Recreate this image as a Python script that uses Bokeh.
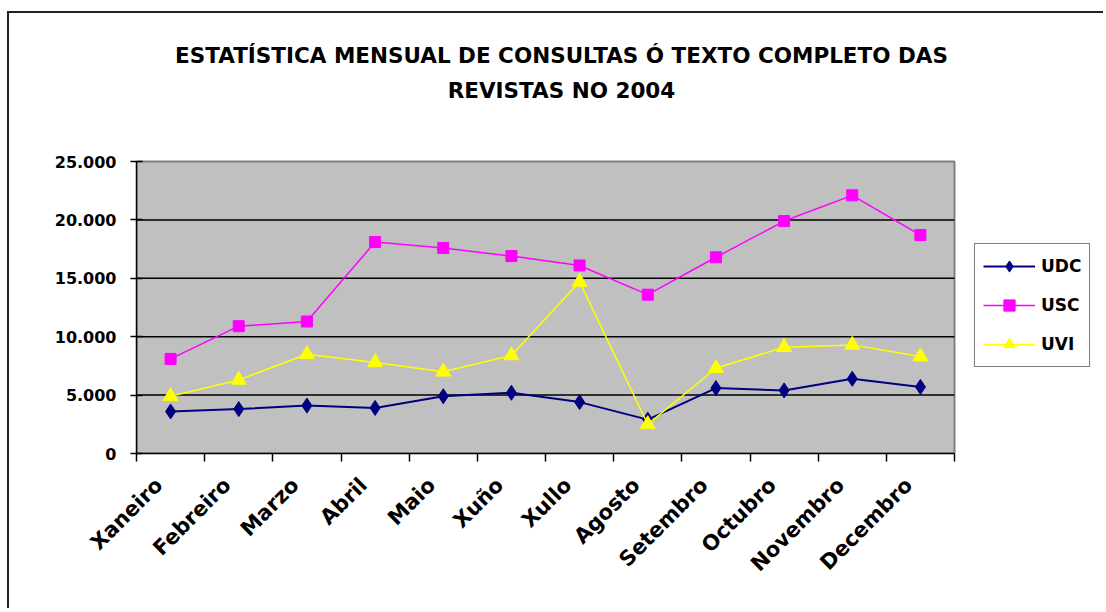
from bokeh.plotting import figure
from bokeh.models import (ColumnDataSource, FixedTicker, Legend, LegendItem, Label,
                          Range1d)
from bokeh.embed import file_html
from bokeh.resources import INLINE

# ---- data ----
months = ["Xaneiro", "Febreiro", "Marzo", "Abril", "Maio", "Xuño", "Xullo",
          "Agosto", "Setembro", "Octubro", "Novembro", "Decembro"]
udc = [3600, 3800, 4100, 3900, 4900, 5200, 4400, 2900, 5600, 5400, 6400, 5700]
usc = [8100, 10900, 11300, 18100, 17600, 16900, 16100, 13600, 16800, 19900, 22100, 18700]
uvi = [4900, 6300, 8500, 7800, 7000, 8400, 14700, 2500, 7300, 9100, 9300, 8300]
y_ticks = [0, 5000, 10000, 15000, 20000, 25000]
y_tick_labels = ["0", "5.000", "10.000", "15.000", "20.000", "25.000"]
title_lines = ["ESTATÍSTICA MENSUAL DE CONSULTAS Ó TEXTO COMPLETO DAS",
               "REVISTAS NO 2004"]
series_names = ["UDC", "USC", "UVI"]

FONT = "DejaVu Sans"

# ---- layout (pixels) ----
W, H = 1096, 597
BORDER_L, BORDER_B = 127, 157
AREA_W, AREA_H = 818, 292          # grey plot area size in px
FRAME_W = W - BORDER_L
FRAME_H = H - BORDER_B
LABEL_SHIFT = 0.17                 # month labels sit a little left of the category centre

n = len(months)
ymax = y_ticks[-1]
xpos = [i + 0.5 for i in range(n)]
label_pos = [x - LABEL_SHIFT for x in xpos]
src = ColumnDataSource(dict(x=xpos, udc=udc, usc=usc, uvi=uvi))

p = figure(width=W, height=H, output_backend="svg", toolbar_location=None,
           x_range=Range1d(0, n * FRAME_W / AREA_W),
           y_range=Range1d(0, ymax * FRAME_H / AREA_H),
           min_border_left=BORDER_L, min_border_right=0, min_border_top=0,
           min_border_bottom=BORDER_B,
           styles={"border-left": "2px solid #222222", "border-top": "2px solid #222222",
                   "margin-top": "11px", "margin-left": "7px"})
p.background_fill_color = "white"
p.border_fill_color = "white"
p.outline_line_color = None
p.xgrid.visible = False
p.ygrid.visible = False

# grey plot area + horizontal grid lines
p.quad(left=[0], right=[n], bottom=[0], top=[ymax], fill_color="#C0C0C0",
       line_color="#808080", line_width=2)
grid_vals = y_ticks[1:-1]
p.segment(x0=[0] * len(grid_vals), x1=[n] * len(grid_vals), y0=grid_vals, y1=grid_vals,
          line_color="black", line_width=1.5)

# y axis
ya = p.yaxis[0]
ya.bounds = (0, ymax)
ya.ticker = FixedTicker(ticks=y_ticks)
ya.major_label_overrides = {t: l for t, l in zip(y_ticks, y_tick_labels)}
ya.major_tick_in = 6
ya.major_tick_out = 6
ya.minor_tick_line_color = None
ya.axis_line_color = "black"
ya.axis_line_width = 1.5
ya.major_tick_line_color = "black"
ya.major_tick_line_width = 1.5
ya.major_label_text_color = "black"
ya.major_label_text_font = FONT
ya.major_label_text_font_style = "bold"
ya.major_label_text_font_size = "16px"
ya.major_label_standoff = 14

# x axis
xa = p.xaxis[0]
xa.bounds = (0, n)
xa.ticker = FixedTicker(ticks=label_pos, minor_ticks=list(range(n + 1)))
xa.major_label_overrides = {x: m for x, m in zip(label_pos, months)}
xa.major_tick_in = 0
xa.major_tick_out = 0
xa.minor_tick_in = 0
xa.minor_tick_out = 8
xa.minor_tick_line_color = "black"
xa.minor_tick_line_width = 1.5
xa.axis_line_color = "black"
xa.axis_line_width = 1.5
xa.major_label_orientation = 0.785398
xa.major_label_text_color = "black"
xa.major_label_text_font = FONT
xa.major_label_text_font_style = "bold"
xa.major_label_text_font_size = "21px"
xa.major_label_standoff = 20

# series
l1 = p.line("x", "udc", source=src, line_color="#000080", line_width=2)
s1 = p.scatter("x", "udc", source=src, marker="diamond", size=15,
               fill_color="#000080", line_color="#000080")
l2 = p.line("x", "usc", source=src, line_color="#FF00FF", line_width=1.5)
s2 = p.scatter("x", "usc", source=src, marker="square", size=11,
               fill_color="#FF00FF", line_color="#FF00FF")
l3 = p.line("x", "uvi", source=src, line_color="#FFFF00", line_width=1.5)
s3 = p.scatter("x", "uvi", source=src, marker="triangle", size=15,
               fill_color="#FFFF00", line_color="#FFFF00")

legend = Legend(items=[LegendItem(label=series_names[0], renderers=[l1, s1]),
                       LegendItem(label=series_names[1], renderers=[l2, s2]),
                       LegendItem(label=series_names[2], renderers=[l3, s3])],
                location=(838, 86), orientation="vertical",
                border_line_color="black", border_line_width=1.5,
                background_fill_color="white", background_fill_alpha=1,
                label_text_color="black",
                label_text_font=FONT, label_text_font_style="bold",
                label_text_font_size="17px", glyph_width=52, glyph_height=28,
                label_height=20, spacing=11, padding=8, margin=0,
                label_standoff=6)
p.add_layout(legend, "center")

p.add_layout(Label(x=425, y=398, x_units="screen", y_units="screen",
                   text=title_lines[0], text_align="center", text_baseline="alphabetic",
                   text_color="black",
                   text_font=FONT, text_font_style="bold", text_font_size="21.5px"))
p.add_layout(Label(x=425, y=363, x_units="screen", y_units="screen",
                   text=title_lines[1], text_align="center", text_baseline="alphabetic",
                   text_color="black",
                   text_font=FONT, text_font_style="bold", text_font_size="21.5px"))

open("out.html", "w").write(file_html(p, INLINE))
